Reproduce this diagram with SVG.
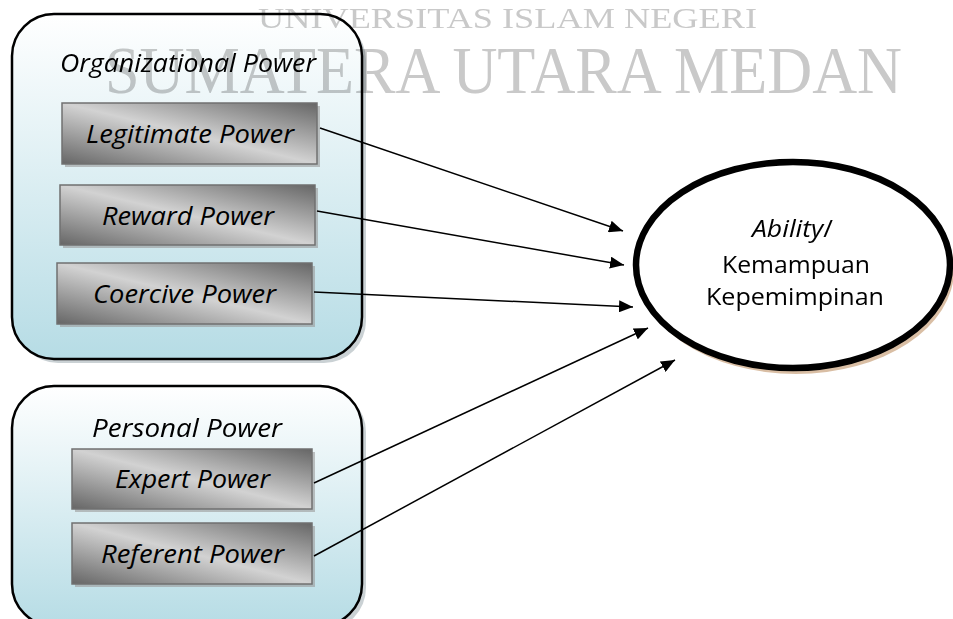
<svg xmlns="http://www.w3.org/2000/svg" width="953" height="619" viewBox="0 0 953 619">
<defs>
<linearGradient id="outerFill" x1="0" y1="0" x2="0" y2="1">
<stop offset="0" stop-color="#ffffff"/>
<stop offset="1" stop-color="#b6dce5"/>
</linearGradient>
<linearGradient id="innerFill" x1="0" y1="1" x2="1" y2="0">
<stop offset="0" stop-color="#666666"/>
<stop offset="0.5" stop-color="#d2d2d2"/>
<stop offset="1" stop-color="#666666"/>
</linearGradient>
<marker id="arrowBig" viewBox="0 0 14 12" refX="14" refY="6" markerWidth="14" markerHeight="12" markerUnits="userSpaceOnUse" orient="auto">
<path d="M0,0 L14,6 L0,12 z" fill="#000"/>
</marker>
</defs>
<style>
.outer{fill:url(#outerFill);stroke:#000;stroke-width:2.5}
.outerShadow{fill:#8a9aa0;opacity:0.45}
.inner{fill:url(#innerFill);stroke:#707070;stroke-width:1.5}
.innerShadow{fill:#9a9a9a;opacity:0.6}
.lbl{font-family:"Open Sans","Liberation Sans",sans-serif;font-style:italic;font-size:25px;fill:#000}
.elbl{font-family:"Open Sans","Liberation Sans",sans-serif;font-size:24px;fill:#000}
.conn{stroke:#000;stroke-width:1.5;fill:none;marker-end:url(#arrowBig)}
.wm{font-family:"Liberation Serif",serif;fill:#c9c9c9;mix-blend-mode:multiply}
</style>

<g id="organizational">
<rect class="outerShadow" x="16" y="18" width="350" height="345" rx="42"/>
<rect class="outer" x="12" y="14" width="350" height="345" rx="42"/>
<text class="lbl" x="60" y="72" textLength="256" lengthAdjust="spacingAndGlyphs">Organizational Power</text>
</g>
<g id="legitimate">
<rect class="innerShadow" x="65" y="106" width="255" height="61"/>
<rect class="inner" x="62" y="103" width="255" height="61"/>
<text class="lbl" x="86" y="143" textLength="208" lengthAdjust="spacingAndGlyphs">Legitimate Power</text>
</g>
<g id="reward">
<rect class="innerShadow" x="63" y="188" width="255" height="60"/>
<rect class="inner" x="60" y="185" width="255" height="60"/>
<text class="lbl" x="102" y="225" textLength="172" lengthAdjust="spacingAndGlyphs">Reward Power</text>
</g>
<g id="coercive">
<rect class="innerShadow" x="60" y="266" width="255" height="61"/>
<rect class="inner" x="57" y="263" width="255" height="61"/>
<text class="lbl" x="93" y="303" textLength="183" lengthAdjust="spacingAndGlyphs">Coercive Power</text>
</g>

<g id="personal">
<rect class="outerShadow" x="16" y="390" width="350" height="240" rx="42"/>
<rect class="outer" x="12" y="386" width="350" height="240" rx="42"/>
<text class="lbl" x="92" y="437" textLength="190" lengthAdjust="spacingAndGlyphs">Personal  Power</text>
</g>
<g id="expert">
<rect class="innerShadow" x="75" y="452" width="240" height="60"/>
<rect class="inner" x="72" y="449" width="240" height="60"/>
<text class="lbl" x="115" y="488" textLength="155" lengthAdjust="spacingAndGlyphs">Expert Power</text>
</g>
<g id="referent">
<rect class="innerShadow" x="75" y="526" width="240" height="61"/>
<rect class="inner" x="72" y="523" width="240" height="61"/>
<text class="lbl" x="101" y="563" textLength="183" lengthAdjust="spacingAndGlyphs">Referent Power</text>
</g>

<g id="ability">
<ellipse cx="796" cy="270" rx="158" ry="104" fill="#c9a27e" opacity="0.7"/>
<ellipse cx="793" cy="265" rx="157" ry="103" fill="#fff" stroke="#000" stroke-width="6.5"/>
<text class="elbl" x="752" y="237" textLength="81" lengthAdjust="spacingAndGlyphs"><tspan font-style="italic">Ability</tspan>/</text>
<text class="elbl" x="722" y="273" textLength="148" lengthAdjust="spacingAndGlyphs">Kemampuan</text>
<text class="elbl" x="706" y="305" textLength="178" lengthAdjust="spacingAndGlyphs">Kepemimpinan</text>
</g>

<g id="connectors">
<line class="conn" x1="320" y1="128" x2="623" y2="231"/>
<line class="conn" x1="317" y1="211" x2="624" y2="265"/>
<line class="conn" x1="314" y1="292" x2="633" y2="307"/>
<line class="conn" x1="314" y1="483" x2="648" y2="328"/>
<line class="conn" x1="314" y1="556" x2="675" y2="360"/>
</g>

<g id="watermark">
<text class="wm" x="258" y="28" font-size="29" textLength="499" lengthAdjust="spacingAndGlyphs">UNIVERSITAS ISLAM NEGERI</text>
<text class="wm" x="105" y="93" font-size="68" textLength="797" lengthAdjust="spacingAndGlyphs">SUMATERA UTARA MEDAN</text>
</g>
</svg>
